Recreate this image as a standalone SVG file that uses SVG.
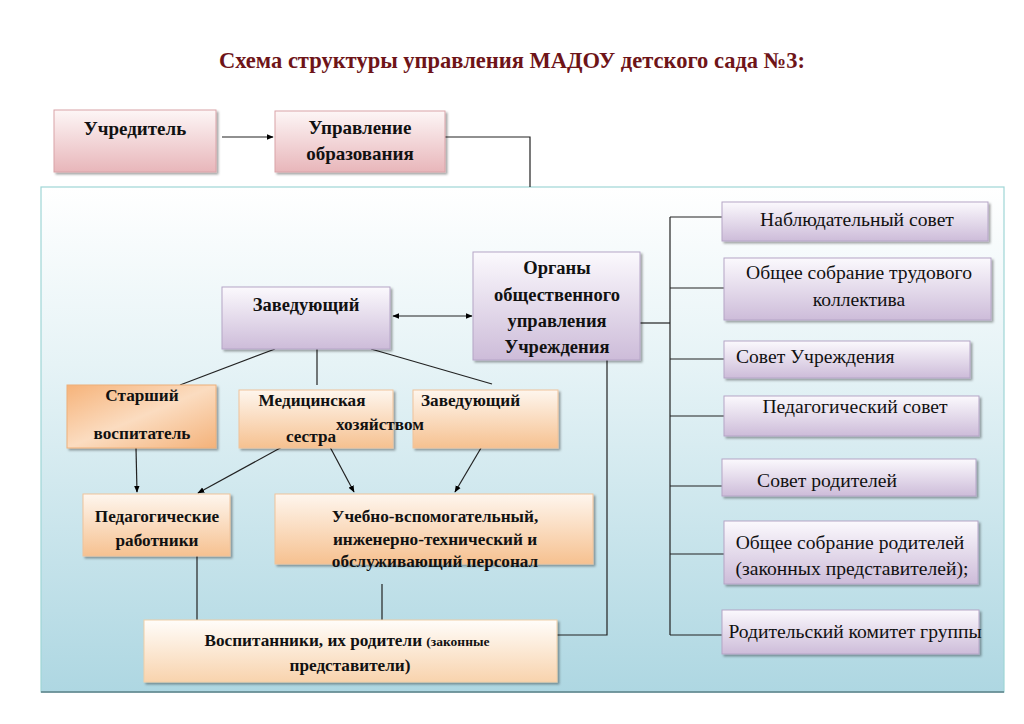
<svg xmlns="http://www.w3.org/2000/svg" width="1024" height="724" viewBox="0 0 1024 724">
<defs>
  <linearGradient id="bg" x1="0" y1="0" x2="0" y2="1">
    <stop offset="0" stop-color="#ffffff"/>
    <stop offset="0.35" stop-color="#e6f3f6"/>
    <stop offset="1" stop-color="#aed7e2"/>
  </linearGradient>
  <linearGradient id="pink" x1="0" y1="0" x2="0" y2="1">
    <stop offset="0" stop-color="#fdf6f6"/>
    <stop offset="1" stop-color="#e8b6ba"/>
  </linearGradient>
  <linearGradient id="lav" x1="0" y1="0" x2="0" y2="1">
    <stop offset="0" stop-color="#fbf9fd"/>
    <stop offset="1" stop-color="#cdbcd9"/>
  </linearGradient>
  <linearGradient id="orange" x1="0" y1="0" x2="0" y2="1">
    <stop offset="0" stop-color="#fef6ee"/>
    <stop offset="1" stop-color="#f6c190"/>
  </linearGradient>
  <linearGradient id="orange2" x1="0" y1="0" x2="1" y2="1">
    <stop offset="0" stop-color="#f6b37a"/>
    <stop offset="0.5" stop-color="#fbdcc0"/>
    <stop offset="1" stop-color="#f4b27a"/>
  </linearGradient>
  <linearGradient id="light" x1="0" y1="0" x2="0" y2="1">
    <stop offset="0" stop-color="#fffdfa"/>
    <stop offset="1" stop-color="#f8d3ad"/>
  </linearGradient>
  <filter id="sh" x="-5%" y="-5%" width="115%" height="125%">
    <feDropShadow dx="2" dy="2" stdDeviation="1.2" flood-color="#000" flood-opacity="0.35"/>
  </filter>
  <marker id="arr" viewBox="0 0 10 10" refX="9" refY="5" markerWidth="7" markerHeight="7" orient="auto-start-reverse" markerUnits="userSpaceOnUse">
    <path d="M0,1 L10,5 L0,9 Z" fill="#000"/>
  </marker>
</defs>
<style>
  .t { font-family: "Liberation Serif", "DejaVu Serif", "Times New Roman", serif; fill: #111; }
  .b { font-weight: bold; font-size: 19px; }
  .m { font-size: 18.5px; }
  .s { font-size: 17.2px; }
  .r { font-size: 19.6px; }
  .ln { stroke: #222; stroke-width: 1.2; fill: none; }
  .box { filter: url(#sh); }
  .pk { fill: url(#pink); stroke: #d9a3a8; stroke-width: 1; }
  .lv { fill: url(#lav); stroke: #b5a5c6; stroke-width: 1; }
  .or { fill: url(#orange); stroke: #efc39c; stroke-width: 1; }
</style>
<rect width="1024" height="724" fill="#ffffff"/>
<text class="t" x="512" y="68" text-anchor="middle" font-weight="bold" font-size="22.5" style="fill:#6e1418">Схема структуры управления МАДОУ детского сада №3:</text>

<g id="panel">
  <rect x="41" y="187" width="963" height="505" fill="url(#bg)" stroke="#9fd6d6" stroke-width="1.2"/>
  <line x1="41" y1="692" x2="1004" y2="692" stroke="#5d8088" stroke-width="1.5"/>
</g>

<g id="connectors">
  <line class="ln" x1="222" y1="137" x2="273" y2="137" marker-end="url(#arr)"/>
  <polyline class="ln" points="445,137 530,137 530,187"/>
  <line class="ln" x1="393" y1="316" x2="472" y2="316" marker-start="url(#arr)" marker-end="url(#arr)"/>
  <line class="ln" x1="275" y1="349" x2="180" y2="385"/>
  <line class="ln" x1="317" y1="349" x2="317" y2="385"/>
  <line class="ln" x1="371" y1="349" x2="492" y2="384"/>
  <line class="ln" x1="136" y1="448" x2="137" y2="492" marker-end="url(#arr)"/>
  <line class="ln" x1="282" y1="447" x2="198" y2="493" marker-end="url(#arr)"/>
  <line class="ln" x1="330" y1="447" x2="354" y2="492" marker-end="url(#arr)"/>
  <line class="ln" x1="481" y1="448" x2="455" y2="492" marker-end="url(#arr)"/>
  <line class="ln" x1="197" y1="556" x2="197" y2="620"/>
  <line class="ln" x1="382" y1="584" x2="382" y2="620"/>
  <polyline class="ln" points="607,360 607,635 557,635"/>
  <line class="ln" x1="640" y1="323" x2="670" y2="323"/>
  <line class="ln" x1="670" y1="217" x2="670" y2="635"/>
  <line class="ln" x1="670" y1="217" x2="722" y2="217"/>
  <line class="ln" x1="670" y1="288" x2="724" y2="288"/>
  <line class="ln" x1="670" y1="359" x2="724" y2="359"/>
  <line class="ln" x1="670" y1="416" x2="724" y2="416"/>
  <line class="ln" x1="670" y1="486" x2="722" y2="486"/>
  <line class="ln" x1="670" y1="554" x2="724" y2="554"/>
  <line class="ln" x1="670" y1="635" x2="722" y2="635"/>
</g>

<g id="n-uchreditel">
  <rect class="box pk" x="54" y="110" width="162" height="62"/>
  <text class="t b" x="135" y="135" text-anchor="middle">Учредитель</text>
</g>
<g id="n-upravlenie">
  <rect class="box pk" x="275" y="111" width="170" height="61"/>
  <text class="t b" x="360" y="134" text-anchor="middle">Управление</text>
  <text class="t b" x="360" y="160" text-anchor="middle">образования</text>
</g>
<g id="n-organy">
  <rect class="box lv" x="473" y="252" width="167" height="108"/>
  <text class="t b m" x="557" y="274" text-anchor="middle">Органы</text>
  <text class="t b m" x="557" y="301" text-anchor="middle">общественного</text>
  <text class="t b m" x="557" y="327" text-anchor="middle">управления</text>
  <text class="t b m" x="557" y="353" text-anchor="middle">Учреждения</text>
</g>
<g id="n-zaved">
  <rect class="box lv" x="222" y="287" width="168" height="62"/>
  <text class="t b m" x="306" y="311" text-anchor="middle">Заведующий</text>
</g>
<g id="n-starshiy">
  <rect class="box" x="67" y="385" width="149" height="63" fill="url(#orange2)" stroke="#eeb07a"/>
  <text class="t b s" x="142" y="401" text-anchor="middle">Старший</text>
  <text class="t b s" x="142" y="439" text-anchor="middle">воспитатель</text>
</g>
<g id="n-med">
  <rect class="box or" x="239" y="390" width="154" height="58"/>
  <text class="t b s" x="312" y="406" text-anchor="middle">Медицинская</text>
  <text class="t b s" x="311" y="442" text-anchor="middle">сестра</text>
</g>
<g id="n-zavhoz">
  <rect class="box or" x="413" y="390" width="145" height="58"/>
  <text class="t b s" x="421" y="406">Заведующий</text>
  <text class="t b s" x="336" y="430">хозяйством</text>
</g>
<g id="n-pedrab">
  <rect class="box or" x="83" y="494" width="147" height="62"/>
  <text class="t b s" x="157" y="522" text-anchor="middle">Педагогические</text>
  <text class="t b s" x="157" y="546" text-anchor="middle">работники</text>
</g>
<g id="n-uvp">
  <rect class="box or" x="275" y="494" width="318" height="70"/>
  <text class="t b s" x="435" y="522" text-anchor="middle">Учебно-вспомогательный,</text>
  <text class="t b s" x="435" y="545" text-anchor="middle">инженерно-технический и</text>
  <text class="t b s" x="435" y="567" text-anchor="middle">обслуживающий персонал</text>
</g>
<g id="n-vospit">
  <rect class="box" x="144" y="620" width="413" height="62" fill="url(#light)" stroke="#f0cfa8"/>
  <text class="t b s" x="347" y="646" text-anchor="middle">Воспитанники, их родители <tspan font-size="13.5">(законные</tspan></text>
  <text class="t b s" x="350" y="671" text-anchor="middle">представители)</text>
</g>

<g id="n-nabl">
  <rect class="box lv" x="722" y="202" width="266" height="39"/>
  <text class="t r" x="857" y="226" text-anchor="middle">Наблюдательный совет</text>
</g>
<g id="n-obshtrud">
  <rect class="box lv" x="724" y="258" width="267" height="62"/>
  <text class="t r" x="859" y="279" text-anchor="middle">Общее собрание трудового</text>
  <text class="t r" x="859" y="306" text-anchor="middle">коллектива</text>
</g>
<g id="n-sovuchr">
  <rect class="box lv" x="724" y="341" width="246" height="37"/>
  <text class="t r" x="736" y="363">Совет Учреждения</text>
</g>
<g id="n-pedsov">
  <rect class="box lv" x="724" y="396" width="255" height="40"/>
  <text class="t r" x="855" y="413" text-anchor="middle">Педагогический совет</text>
</g>
<g id="n-sovrod">
  <rect class="box lv" x="722" y="459" width="254" height="37"/>
  <text class="t r" x="827" y="487" text-anchor="middle">Совет родителей</text>
</g>
<g id="n-obshrod">
  <rect class="box lv" x="724" y="521" width="254" height="63"/>
  <text class="t r" x="850" y="549" text-anchor="middle">Общее собрание родителей</text>
  <text class="t r" x="852" y="575" text-anchor="middle">(законных представителей);</text>
</g>
<g id="n-rodkom">
  <rect class="box lv" x="722" y="610" width="257" height="44"/>
  <text class="t r" x="855" y="638" text-anchor="middle">Родительский комитет группы</text>
</g>
</svg>
